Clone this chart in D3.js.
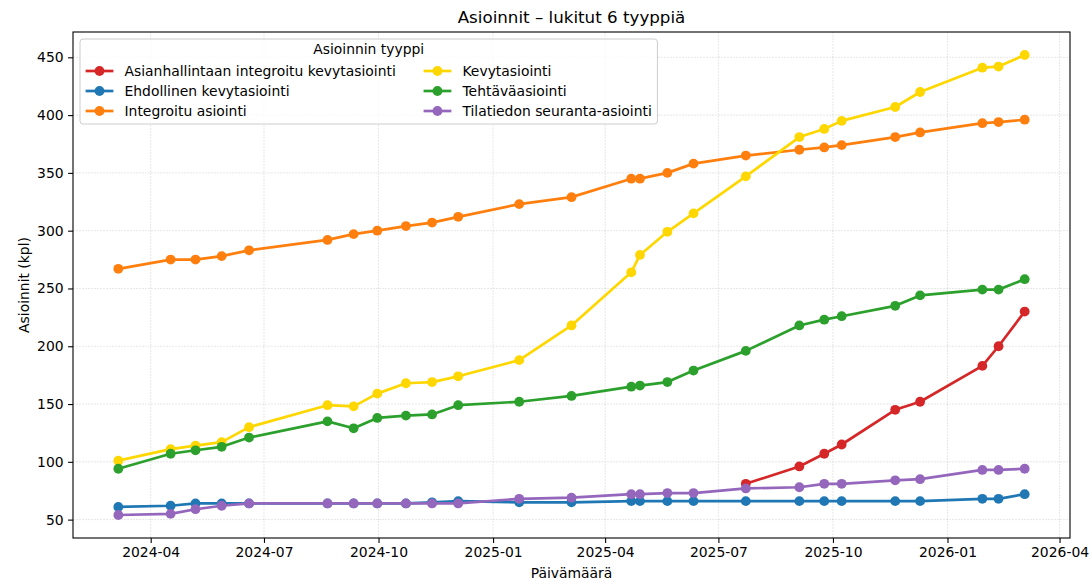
<!DOCTYPE html>
<html>
<head>
<meta charset="utf-8">
<script src="https://cdn.jsdelivr.net/npm/d3@7"></script>
<style>
  body { margin: 0; background: #fff; }
  text { font-family: "DejaVu Sans", sans-serif; fill: #000; }
</style>
</head>
<body>
<div id="chart"></div>
<script>
// datapoints (one per snapshot date)
const dates = ['2024-03-06', '2024-04-17', '2024-05-07', '2024-05-28', '2024-06-19',
  '2024-08-21', '2024-09-11', '2024-09-30', '2024-10-23', '2024-11-13', '2024-12-04',
  '2025-01-22', '2025-03-05', '2025-04-22', '2025-04-29', '2025-05-21', '2025-06-11',
  '2025-07-23', '2025-09-04', '2025-09-24', '2025-10-08', '2025-11-20', '2025-12-10',
  '2026-01-29', '2026-02-11', '2026-03-04'];

const asianhallintaan = [null, null, null, null, null, null, null, null, null, null, null,
  null, null, null, null, null, null, 81, 96, 107, 115, 145, 152, 183, 200, 230];
const ehdollinen = [61, 62, 64, 64, 64, 64, 64, 64, 64, 65, 66, 65, 65, 66, 66, 66, 66,
  66, 66, 66, 66, 66, 66, 68, 68, 72];
const integroitu = [267, 275, 275, 278, 283, 292, 297, 300, 304, 307, 312, 323, 329, 345,
  345, 350, 358, 365, 370, 372, 374, 381, 385, 393, 394, 396];
const kevyt = [101, 111, 114, 117, 130, 149, 148, 159, 168, 169, 174, 188, 218, 264, 279,
  299, 315, 347, 381, 388, 395, 407, 420, 441, 442, 452];
const tehtava = [94, 107, 110, 113, 121, 135, 129, 138, 140, 141, 149, 152, 157, 165, 166,
  169, 179, 196, 218, 223, 226, 235, 244, 249, 249, 258];
const tilatieto = [54, 55, 59, 62, 64, 64, 64, 64, 64, 64, 64, 68, 69, 72, 72, 73, 73, 77,
  78, 81, 81, 84, 85, 93, 93, 94];

const seriesNames = ['Asianhallintaan integroitu kevytasiointi', 'Ehdollinen kevytasiointi',
  'Integroitu asiointi', 'Kevytasiointi', 'Tehtäväasiointi', 'Tilatiedon seuranta-asiointi'];
const seriesValues = [asianhallintaan, ehdollinen, integroitu, kevyt, tehtava, tilatieto];
const colors = ['#d62728', '#1f77b4', '#ff7f0e', '#ffd700', '#2ca02c', '#9467bd'];

const width = 1091;
const height = 580;
const margin = {top: 32, right: 21, bottom: 42, left: 73};
const fs = 13.9;

const parse = d3.utcParse('%Y-%m-%d');
const dateObjs = dates.map(parse);

const series = seriesNames.map((name, i) => ({
  name: name,
  color: colors[i],
  points: dateObjs.map((d, j) => ({date: d, value: seriesValues[i][j]}))
    .filter(p => p.value != null)
}));

const svg = d3.select('#chart')
  .append('svg')
  .attr('width', width)
  .attr('height', height);

// 5% padding like matplotlib
const xExt = d3.extent(dateObjs);
const xPad = (xExt[1] - xExt[0]) * 0.05;
const allVals = seriesValues.flat().filter(v => v != null);
const yMin = d3.min(allVals), yMax = d3.max(allVals);
const yPad = (yMax - yMin) * 0.05;

const x = d3.scaleUtc()
  .domain([new Date(+xExt[0] - xPad), new Date(+xExt[1] + xPad)])
  .range([margin.left, width - margin.right]);

const y = d3.scaleLinear()
  .domain([yMin - yPad, yMax + yPad])
  .range([height - margin.bottom, margin.top]);

const xTicks = x.ticks(d3.utcMonth.every(3));
const yTicks = d3.range(50, 451, 50);

// grid
const grid = svg.append('g').attr('class', 'grid');
grid.selectAll('.gx')
  .data(xTicks)
  .enter()
  .append('line')
  .attr('x1', d => x(d)).attr('x2', d => x(d))
  .attr('y1', margin.top).attr('y2', height - margin.bottom)
  .attr('stroke', '#b0b0b0').attr('stroke-opacity', 0.35)
  .attr('stroke-width', 0.9).attr('stroke-dasharray', '2,1');
grid.selectAll('.gy')
  .data(yTicks)
  .enter()
  .append('line')
  .attr('x1', margin.left).attr('x2', width - margin.right)
  .attr('y1', d => y(d)).attr('y2', d => y(d))
  .attr('stroke', '#b0b0b0').attr('stroke-opacity', 0.35)
  .attr('stroke-width', 0.9).attr('stroke-dasharray', '2,1');

// axes
const axisX = d3.axisBottom(x)
  .tickValues(xTicks)
  .tickFormat(d3.utcFormat('%Y-%m'))
  .tickSize(4.9)
  .tickPadding(4.5);
const gx = svg.append('g')
  .attr('transform', `translate(0, ${height - margin.bottom})`)
  .call(axisX);

const axisY = d3.axisLeft(y)
  .tickValues(yTicks)
  .tickSize(4.9)
  .tickPadding(4.5);
const gy = svg.append('g')
  .attr('transform', `translate(${margin.left}, 0)`)
  .call(axisY);

[gx, gy].forEach(g => {
  g.select('.domain').remove();
  g.selectAll('.tick line').attr('stroke', '#000').attr('stroke-width', 1.1);
  g.selectAll('.tick text')
    .style('font-family', '"DejaVu Sans", sans-serif')
    .style('font-size', fs + 'px')
    .attr('fill', '#000');
});

// lines + markers
const line = d3.line()
  .x(d => x(d.date))
  .y(d => y(d.value));

const plot = svg.append('g');
series.forEach(s => {
  const g = plot.append('g');
  g.append('path')
    .attr('d', line(s.points))
    .attr('fill', 'none')
    .attr('stroke', s.color)
    .attr('stroke-width', 2.7)
    .attr('stroke-linejoin', 'round')
    .attr('stroke-linecap', 'round');
  g.selectAll('circle')
    .data(s.points)
    .enter()
    .append('circle')
    .attr('cx', d => x(d.date))
    .attr('cy', d => y(d.value))
    .attr('r', 4.9)
    .attr('fill', s.color);
});

// frame
svg.append('rect')
  .attr('x', margin.left).attr('y', margin.top)
  .attr('width', width - margin.left - margin.right)
  .attr('height', height - margin.top - margin.bottom)
  .attr('fill', 'none')
  .attr('stroke', '#000')
  .attr('stroke-width', 1.1);

// titles
svg.append('text')
  .attr('x', (margin.left + width - margin.right) / 2)
  .attr('y', 23)
  .attr('text-anchor', 'middle')
  .style('font-size', '16.7px')
  .text('Asioinnit – lukitut 6 tyyppiä');

svg.append('text')
  .attr('x', (margin.left + width - margin.right) / 2)
  .attr('y', 578)
  .attr('text-anchor', 'middle')
  .style('font-size', fs + 'px')
  .text('Päivämäärä');

svg.append('text')
  .attr('transform', `translate(29, ${(margin.top + height - margin.bottom) / 2}) rotate(-90)`)
  .attr('text-anchor', 'middle')
  .style('font-size', fs + 'px')
  .text('Asioinnit (kpl)');

// legend (2 columns, upper left)
const legend = svg.append('g');
const boxX = margin.left + 7;
const boxY = margin.top + 7;
const pad = 5.6;
const handleLen = 27.8;
const textPad = 11.1;
const colSpace = 27.8;
const rowH = 20;
const nRows = 3;

const legendBox = legend.append('rect')
  .attr('x', boxX).attr('y', boxY)
  .attr('rx', 3)
  .attr('fill', '#fff').attr('fill-opacity', 0.8)
  .attr('stroke', '#cccccc').attr('stroke-width', 1);

const legendTitle = legend.append('text')
  .attr('y', boxY + 15)
  .attr('text-anchor', 'middle')
  .style('font-size', fs + 'px')
  .text('Asioinnin tyyppi');

const items = legend.selectAll('.item')
  .data(series)
  .enter()
  .append('g');

const labels = items.append('text')
  .style('font-size', fs + 'px')
  .attr('dy', '0.35em')
  .text(d => d.name);

const col1Width = d3.max(labels.filter((d, i) => i < nRows).nodes(), n => n.getComputedTextLength());
const col2Width = d3.max(labels.filter((d, i) => i >= nRows).nodes(), n => n.getComputedTextLength());
const colX = [boxX + pad, boxX + pad + handleLen + textPad + col1Width + colSpace];

items.attr('transform', (d, i) => {
  const cx = colX[Math.floor(i / nRows)];
  const cy = boxY + 32 + (i % nRows) * rowH;
  return `translate(${cx}, ${cy})`;
});
items.append('line')
  .attr('x1', 0).attr('x2', handleLen)
  .attr('stroke', d => d.color).attr('stroke-width', 2.7);
items.append('circle')
  .attr('cx', handleLen / 2)
  .attr('r', 4.9)
  .attr('fill', d => d.color);
labels.attr('x', handleLen + textPad);

const boxW = colX[1] - boxX + handleLen + textPad + col2Width + pad;
legendBox.attr('width', boxW).attr('height', 85);
legendTitle.attr('x', boxX + boxW / 2);
</script>
</body>
</html>
